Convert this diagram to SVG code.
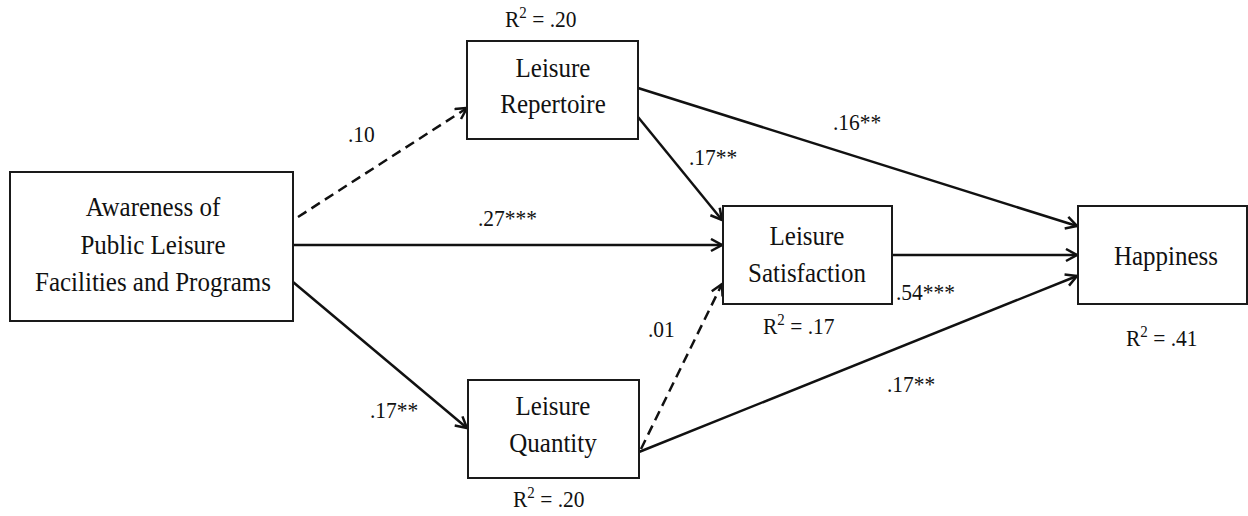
<svg xmlns="http://www.w3.org/2000/svg" width="1248" height="516" viewBox="0 0 1248 516">
  <style>
    .box { fill: #fff; stroke: #1a1a1a; stroke-width: 2; }
    text { font-family: 'Liberation Serif', 'Times New Roman', serif; fill: #111; }
    .node { font-size: 25px; text-anchor: middle; }
    .coef { font-size: 21.5px; }
    .sup { font-size: 15px; }
    .path { fill: none; stroke: #111; stroke-width: 2.5; marker-end: url(#arrow); }
    .dash { stroke-dasharray: 10 6; }
  </style>
  <defs>
    <marker id="arrow" markerUnits="userSpaceOnUse" markerWidth="16" markerHeight="16" refX="12" refY="7" orient="auto">
      <path d="M1,1 L12,7 L1,13" fill="none" stroke="#111" stroke-width="2.5" stroke-dasharray="none"/>
    </marker>
  </defs>
  <rect width="1248" height="516" fill="#fff"/>

  <!-- paths between constructs -->
  <g id="connectors">
    <line class="path dash" x1="298" y1="217" x2="467" y2="108"/>
    <line class="path" x1="293" y1="245" x2="722" y2="245"/>
    <line class="path" x1="293" y1="282" x2="467" y2="428"/>
    <line class="path" x1="638" y1="117" x2="722" y2="220"/>
    <line class="path" x1="638" y1="88" x2="1077" y2="226"/>
    <line class="path" x1="892" y1="255" x2="1077" y2="255"/>
    <line class="path dash" x1="641" y1="449" x2="722" y2="284"/>
    <line class="path" x1="639" y1="452" x2="1077" y2="276"/>
  </g>

  <!-- text is set slightly tall: scale(1,1.12) after positioning -->
  <g id="awareness">
    <rect class="box" x="10" y="172" width="283" height="149"/>
    <text class="node" transform="translate(153,216) scale(1,1.12)">Awareness of</text>
    <text class="node" transform="translate(153,254) scale(1,1.12)">Public Leisure</text>
    <text class="node" transform="translate(153,291) scale(1,1.12)">Facilities and Programs</text>
  </g>

  <g id="repertoire">
    <rect class="box" x="467" y="41" width="171" height="98"/>
    <text class="node" transform="translate(553,77) scale(1,1.12)">Leisure</text>
    <text class="node" transform="translate(553,113) scale(1,1.12)">Repertoire</text>
    <text class="coef" transform="translate(505,27) scale(1,1.12)">R<tspan class="sup" dy="-8">2</tspan><tspan dy="8"> = .20</tspan></text>
  </g>

  <g id="satisfaction">
    <rect class="box" x="723" y="206" width="169" height="98"/>
    <text class="node" transform="translate(807,245) scale(1,1.12)">Leisure</text>
    <text class="node" transform="translate(807,282) scale(1,1.12)">Satisfaction</text>
    <text class="coef" transform="translate(763,334) scale(1,1.12)">R<tspan class="sup" dy="-8">2</tspan><tspan dy="8"> = .17</tspan></text>
  </g>

  <g id="quantity">
    <rect class="box" x="468" y="380" width="171" height="98"/>
    <text class="node" transform="translate(553,415) scale(1,1.12)">Leisure</text>
    <text class="node" transform="translate(553,452) scale(1,1.12)">Quantity</text>
    <text class="coef" transform="translate(513,507) scale(1,1.12)">R<tspan class="sup" dy="-8">2</tspan><tspan dy="8"> = .20</tspan></text>
  </g>

  <g id="happiness">
    <rect class="box" x="1078" y="206" width="169" height="98"/>
    <text class="node" transform="translate(1166,265) scale(1,1.12)">Happiness</text>
    <text class="coef" transform="translate(1126,346) scale(1,1.12)">R<tspan class="sup" dy="-8">2</tspan><tspan dy="8"> = .41</tspan></text>
  </g>

  <!-- path coefficients -->
  <g id="coefficients">
    <text class="coef" transform="translate(348,142) scale(1,1.12)">.10</text>
    <text class="coef" transform="translate(478,226) scale(1,1.12)">.27***</text>
    <text class="coef" transform="translate(370,418) scale(1,1.12)">.17**</text>
    <text class="coef" transform="translate(689,165) scale(1,1.12)">.17**</text>
    <text class="coef" transform="translate(833,130) scale(1,1.12)">.16**</text>
    <text class="coef" transform="translate(896,300) scale(1,1.12)">.54***</text>
    <text class="coef" transform="translate(648,337) scale(1,1.12)">.01</text>
    <text class="coef" transform="translate(887,392) scale(1,1.12)">.17**</text>
  </g>
</svg>
